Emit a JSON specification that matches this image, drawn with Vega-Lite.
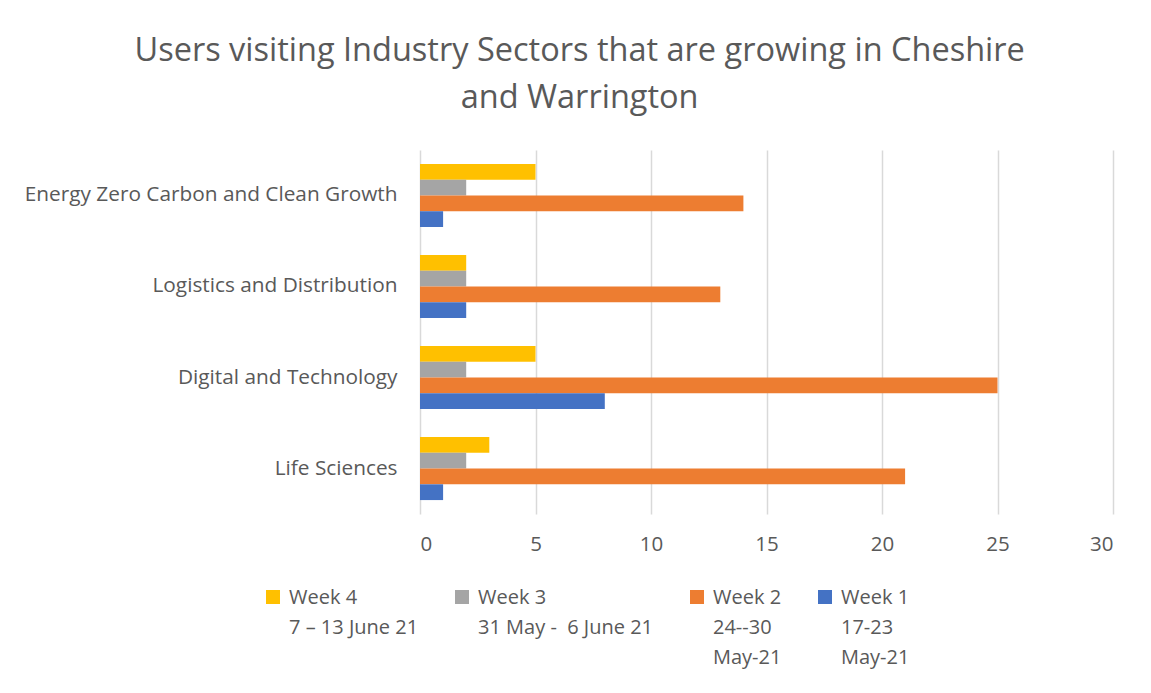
{
  "$schema": "https://vega.github.io/schema/vega-lite/v6.json",
  "width": 693,
  "height": 364,
  "padding": {"left": 24, "top": 34, "right": 30, "bottom": 10},
  "background": "white",
  "title": {
    "text": ["Users visiting Industry Sectors that are growing in Cheshire", "and Warrington"],
    "anchor": "middle",
    "frame": "bounds",
    "font": "Open Sans",
    "fontSize": 32.5,
    "fontWeight": "normal",
    "color": "#595959",
    "lineHeight": 47,
    "offset": 36,
    "dx": 11
  },
  "data": {
    "values": [
      {"sector": "Energy Zero Carbon and Clean Growth", "week": "Week 4", "users": 5},
      {"sector": "Energy Zero Carbon and Clean Growth", "week": "Week 3", "users": 2},
      {"sector": "Energy Zero Carbon and Clean Growth", "week": "Week 2", "users": 14},
      {"sector": "Energy Zero Carbon and Clean Growth", "week": "Week 1", "users": 1},
      {"sector": "Logistics and Distribution", "week": "Week 4", "users": 2},
      {"sector": "Logistics and Distribution", "week": "Week 3", "users": 2},
      {"sector": "Logistics and Distribution", "week": "Week 2", "users": 13},
      {"sector": "Logistics and Distribution", "week": "Week 1", "users": 2},
      {"sector": "Digital and Technology", "week": "Week 4", "users": 5},
      {"sector": "Digital and Technology", "week": "Week 3", "users": 2},
      {"sector": "Digital and Technology", "week": "Week 2", "users": 25},
      {"sector": "Digital and Technology", "week": "Week 1", "users": 8},
      {"sector": "Life Sciences", "week": "Week 4", "users": 3},
      {"sector": "Life Sciences", "week": "Week 3", "users": 2},
      {"sector": "Life Sciences", "week": "Week 2", "users": 21},
      {"sector": "Life Sciences", "week": "Week 1", "users": 1}
    ]
  },
  "mark": {"type": "bar"},
  "encoding": {
    "y": {
      "field": "sector",
      "type": "nominal",
      "sort": ["Energy Zero Carbon and Clean Growth", "Logistics and Distribution", "Digital and Technology", "Life Sciences"],
      "scale": {"paddingInner": 0.307, "paddingOuter": 0.153},
      "axis": {
        "title": null,
        "domain": false,
        "ticks": false,
        "labelPadding": 23,
        "labelFont": "Open Sans",
        "labelFontSize": 20.8,
        "labelColor": "#595959",
        "labelLimit": 500
      }
    },
    "yOffset": {
      "field": "week",
      "type": "nominal",
      "sort": ["Week 4", "Week 3", "Week 2", "Week 1"],
      "scale": {"paddingInner": 0, "paddingOuter": 0}
    },
    "x": {
      "field": "users",
      "type": "quantitative",
      "scale": {"domain": [0, 30], "nice": false},
      "axis": {
        "title": null,
        "values": [0, 5, 10, 15, 20, 25, 30],
        "domain": false,
        "ticks": false,
        "grid": true,
        "gridColor": "#d9d9d9",
        "gridWidth": 1.5,
        "labelPadding": 20,
        "labelFont": "Open Sans",
        "labelFontSize": 20.5,
        "labelColor": "#595959"
      }
    },
    "color": {
      "field": "week",
      "type": "nominal",
      "sort": ["Week 4", "Week 3", "Week 2", "Week 1"],
      "scale": {
        "domain": ["Week 4", "Week 3", "Week 2", "Week 1"],
        "range": ["#FFC000", "#A5A5A5", "#ED7D31", "#4472C4"]
      },
      "legend": {
        "title": null,
        "orient": "none",
        "legendX": -157,
        "legendY": 437,
        "direction": "horizontal",
        "columns": 4,
        "columnPadding": 33,
        "symbolType": "square",
        "symbolSize": 196,
        "symbolStrokeWidth": 0,
        "labelFont": "Open Sans",
        "labelFontSize": 20,
        "labelColor": "#595959",
        "labelOffset": 6,
        "labelLimit": 400,
        "labelExpr": "datum.label == 'Week 4' ? ['Week 4', '\u00a07 \u2013 13 June 21', '\u00a0'] : datum.label == 'Week 3' ? ['Week 3', '\u00a031 May -\u00a0 6 June 21', '\u00a0'] : datum.label == 'Week 2' ? ['Week 2', '24--30', 'May-21'] : ['Week 1', '17-23', 'May-21']",
        "encode": {
          "labels": {"update": {"lineHeight": {"value": 30}, "baseline": {"value": "top"}, "dy": {"value": -9}}}
        }
      }
    }
  },
  "config": {
    "view": {"stroke": null}
  }
}
